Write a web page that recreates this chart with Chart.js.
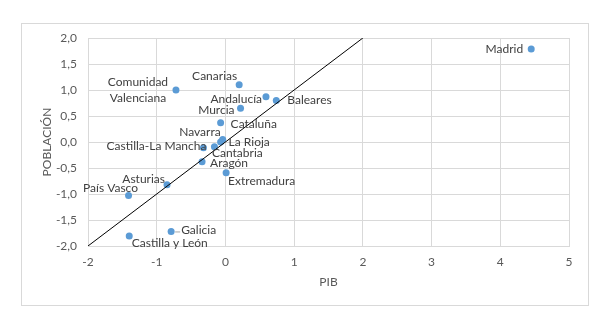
<!DOCTYPE html>
<html>
<head>
<meta charset="utf-8">
<script src="https://cdn.jsdelivr.net/npm/chart.js@4/dist/chart.umd.min.js"></script>
<style>
  html, body { margin: 0; padding: 0; background: #ffffff; }
  #wrap { width: 611px; height: 331px; }
</style>
</head>
<body>
<div id="wrap"><canvas id="c" width="611" height="331"></canvas></div>
<script>
// ---- data ----
const regions = ['Madrid', 'Comunidad Valenciana', 'Canarias', 'Andalucía', 'Baleares', 'Murcia',
  'Cataluña', 'Navarra', 'La Rioja', 'Castilla-La Mancha', 'Cantabria', 'Aragón', 'Extremadura',
  'Asturias', 'País Vasco', 'Galicia', 'Castilla y León'];
const pib = [4.45, -0.72, 0.20, 0.59, 0.74, 0.22, -0.07, -0.04, -0.07, -0.32, -0.16, -0.34, 0.01, -0.85, -1.41, -0.79, -1.40];
const poblacion = [1.79, 1.00, 1.10, 0.87, 0.80, 0.65, 0.37, 0.05, 0.00, -0.11, -0.09, -0.38, -0.59, -0.82, -1.03, -1.72, -1.81];
const refLineX = [-2, 2];
const refLineY = [-2, 2];
const xTicks = [-2, -1, 0, 1, 2, 3, 4, 5];
const xTickLabels = ['-2', '-1', '0', '1', '2', '3', '4', '5'];
const yTicks = [-2, -1.5, -1, -0.5, 0, 0.5, 1, 1.5, 2];
const yTickLabels = ['-2,0', '-1,5', '-1,0', '-0,5', '0,0', '0,5', '1,0', '1,5', '2,0'];
const xTitle = 'PIB';
const yTitle = 'POBLACIÓN';

// ---- label placement (style only) ----
const labelStyle = {
  'Madrid': { align: 'right', dx: -8, dy: 0 },
  'Comunidad Valenciana': { align: 'center', dx: -38, dy: 0, lines: ['Comunidad', 'Valenciana'], lineGap: 16.5 },
  'Canarias': { align: 'right', dx: -2, dy: -8.5 },
  'Andalucía': { align: 'right', dx: -4, dy: 2 },
  'Baleares': { align: 'left', dx: 11, dy: 0 },
  'Murcia': { align: 'right', dx: -6, dy: 2 },
  'Cataluña': { align: 'left', dx: 10, dy: 1 },
  'Navarra': { align: 'right', dx: -2, dy: -7 },
  'La Rioja': { align: 'left', dx: 8, dy: 0 },
  'Castilla-La Mancha': { align: 'right', dx: 3, dy: -1.5 },
  'Cantabria': { align: 'left', dx: -2.5, dy: 6 },
  'Aragón': { align: 'left', dx: 8, dy: 1 },
  'Extremadura': { align: 'left', dx: 2, dy: 8.5 },
  'Asturias': { align: 'right', dx: -2, dy: -6 },
  'País Vasco': { align: 'right', dx: 9.5, dy: -7.5 },
  'Galicia': { align: 'left', dx: 10, dy: -1, leader: true },
  'Castilla y León': { align: 'left', dx: 2.5, dy: 7.5 }
};

const FONT = 'Lato, "Open Sans", sans-serif';

const frame = {
  id: 'frame',
  beforeDraw(chart) {
    const ctx = chart.ctx;
    ctx.save();
    ctx.fillStyle = '#ffffff';
    ctx.fillRect(0, 0, chart.width, chart.height);
    ctx.strokeStyle = '#d9d9d9';
    ctx.lineWidth = 1;
    ctx.strokeRect(21.5, 23.5, 567, 282);
    ctx.restore();
  }
};

const pointLabels = {
  id: 'pointLabels',
  afterDatasetsDraw(chart) {
    const meta = chart.getDatasetMeta(1);
    const ctx = chart.ctx;
    ctx.save();
    ctx.font = '12px ' + FONT;
    ctx.fillStyle = '#404040';
    ctx.textBaseline = 'middle';
    meta.data.forEach((pt, i) => {
      const name = regions[i];
      const st = labelStyle[name] || { align: 'left', dx: 8, dy: 0 };
      ctx.textAlign = st.align;
      const x = pt.x + st.dx;
      const y = pt.y + st.dy;
      if (st.lines) {
        const n = st.lines.length;
        st.lines.forEach((ln, k) => {
          ctx.fillText(ln, x, y + (k - (n - 1) / 2) * st.lineGap);
        });
      } else {
        ctx.fillText(name, x, y);
      }
      if (st.leader) {
        ctx.strokeStyle = '#a6a6a6';
        ctx.lineWidth = 1;
        ctx.beginPath();
        ctx.moveTo(pt.x + 4, pt.y + 0.5);
        ctx.lineTo(pt.x + st.dx - 1, pt.y + 0.5);
        ctx.stroke();
      }
    });
    ctx.restore();
  }
};

new Chart(document.getElementById('c'), {
  type: 'scatter',
  data: {
    datasets: [
      {
        type: 'line',
        label: 'y = x',
        data: refLineX.map((x, i) => ({ x: x, y: refLineY[i] })),
        borderColor: '#000000',
        borderWidth: 1,
        pointRadius: 0,
        fill: false,
        order: 1
      },
      {
        label: 'Comunidades',
        data: pib.map((x, i) => ({ x: x, y: poblacion[i] })),
        backgroundColor: '#5b9bd5',
        borderColor: '#5b9bd5',
        pointRadius: 3.5,
        pointBorderWidth: 0,
        order: 2
      }
    ]
  },
  options: {
    responsive: false,
    animation: false,
    devicePixelRatio: 1,
    layout: { padding: { left: 0, right: 42, top: 38, bottom: 25 } },
    plugins: {
      legend: { display: false },
      tooltip: { enabled: false }
    },
    scales: {
      x: {
        type: 'linear',
        min: -2, max: 5,
        afterBuildTicks: s => { s.ticks = xTicks.map(v => ({ value: v })); },
        afterFit: s => { s.height = 60; },
        ticks: {
          callback: (v, i) => xTickLabels[i],
          color: '#595959',
          font: { family: FONT, size: 12 },
          padding: 9,
          maxRotation: 0
        },
        grid: { color: '#d9d9d9', drawTicks: false, lineWidth: 1 },
        border: { display: true, color: '#d9d9d9' },
        title: {
          display: true, text: xTitle, color: '#595959',
          font: { family: FONT, size: 12 },
          padding: { top: 0, bottom: 17 }
        }
      },
      y: {
        type: 'linear',
        min: -2, max: 2,
        afterBuildTicks: s => { s.ticks = yTicks.map(v => ({ value: v })); },
        afterFit: s => { s.width = 88; },
        ticks: {
          callback: (v, i) => yTickLabels[i],
          color: '#595959',
          font: { family: FONT, size: 12 },
          padding: 11
        },
        grid: { color: '#d9d9d9', drawTicks: false, lineWidth: 1 },
        border: { display: true, color: '#d9d9d9' },
        title: {
          display: true, text: yTitle, color: '#595959',
          font: { family: FONT, size: 12 },
          padding: { top: 39.5, bottom: 0 }
        }
      }
    }
  },
  plugins: [frame, pointLabels]
});
</script>
</body>
</html>
